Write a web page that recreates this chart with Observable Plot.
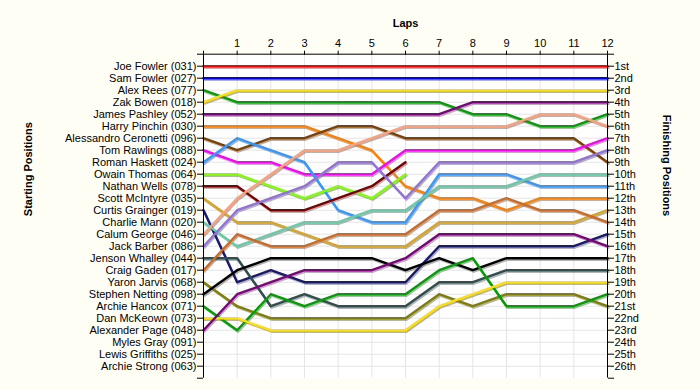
<!DOCTYPE html>
<html>
<head>
<meta charset="utf-8">
<script src="https://cdn.jsdelivr.net/npm/d3@7"></script>
<script src="https://cdn.jsdelivr.net/npm/@observablehq/plot@0.6"></script>
<style>
  html, body { margin: 0; padding: 0; background: #fffef4; }
  #chart svg { display: block; }
</style>
</head>
<body>
<div id="chart"></div>
<script>
// Laps (0 = start)
const laps = d3.range(0, 13);

// Starting-grid labels (left axis), in starting order
const startLabels = [
  "Joe Fowler (031)", "Sam Fowler (027)", "Alex Rees (077)", "Zak Bowen (018)",
  "James Pashley (052)", "Harry Pinchin (030)", "Alessandro Ceronetti (096)",
  "Tom Rawlings (088)", "Roman Haskett (024)", "Owain Thomas (064)",
  "Nathan Wells (078)", "Scott McIntyre (035)", "Curtis Grainger (019)",
  "Charlie Mann (020)", "Calum George (046)", "Jack Barber (086)",
  "Jenson Whalley (044)", "Craig Gaden (017)", "Yaron Jarvis (068)",
  "Stephen Netting (098)", "Archie Hancox (071)", "Dan McKeown (073)",
  "Alexander Page (048)", "Myles Gray (091)", "Lewis Griffiths (025)",
  "Archie Strong (063)"
];

// Finishing-position labels (right axis)
const finishLabels = [
  "1st","2nd","3rd","4th","5th","6th","7th","8th","9th","10th","11th","12th","13th",
  "14th","15th","16th","17th","18th","19th","20th","21st","22nd","23rd","24th","25th","26th"
];

// Riders who have lap data (same order as the starting grid)
const riders = startLabels.slice(0, 23);

// Position of each rider at lap 0..n
const lapPositions = [
  [1,1,1,1,1,1,1,1,1,1,1,1,1],
  [2,2,2,2,2,2,2,2,2,2,2,2,2],
  [3,4,4,4,4,4,4,4,5,5,6,6,5],
  [4,3,3,3,3,3,3,3,3,3,3,3,3],
  [5,5,5,5,5,5,5,5,4,4,4,4,4],
  [6,6,6,6,7,8,11,12,12,13,12,12,12],
  [7,8,7,7,6,6,7,7,7,7,7,7,9],
  [8,9,9,10,10,10,8,8,8,8,8,8,7],
  [9,7,8,9,13,14,14,10,10,10,11,11,11],
  [10,10,11,12,11,12,10],
  [11,11,13,13,12,11,9],
  [12,14,14,15,16,16,16,14,14,14,14,14,13],
  [13,19,18,19,19,19,19,16,16,16,16,16,15],
  [14,16,15,14,14,13,13,11,11,11,10,10,10],
  [15,12,10,8,8,7,6,6,6,6,5,5,6],
  [16,13,12,11,9,9,12,9,9,9,9,9,8],
  [17,17,21,20,21,21,21,19,19,18,18,18,18],
  [18,15,16,16,15,15,15,13,13,12,13,13,14],
  [19,21,22,22,22,22,22,20,21,20,20,20,21],
  [20,18,17,17,17,17,18,17,18,17,17,17,17],
  [21,23,20,21,20,20,20,18,17,21,21,21,20],
  [22,22,23,23,23,23,23,21,20,19,19,19,19],
  [23,20,19,18,18,18,17,15,15,15,15,15,16]
];

// Line colours, one per rider
const riderColors = [
  "#ff0000","#0000ff","#00a000","#ffe000","#800080","#ff8000","#804000","#ff00ff",
  "#3399ff","#80ff00","#800000","#daa520","#191970","#66cdaa","#ffa07a","#9370db",
  "#2f4f4f","#d2691e","#808000","#000000","#00a000","#ffe000","#800080"
];

const rows = [];
riders.forEach((r, i) => {
  lapPositions[i].forEach((p, j) => rows.push({rider: r, lap: laps[j], pos: p}));
});

const posTicks = d3.range(0, 28);

const chart = Plot.plot({
  width: 700,
  height: 390,
  marginLeft: 203,
  marginRight: 93,
  marginTop: 53.7,
  marginBottom: 12.3,
  style: {background: "#fffef4", fontFamily: "'Liberation Sans', Arial, sans-serif", fontSize: "11px", color: "#000"},
  x: {domain: [0, 12]},
  y: {domain: [0, 27], reverse: true},
  color: {domain: riders, range: riderColors},
  marks: [
    Plot.frame({fill: "white", stroke: null}),
    Plot.gridX({ticks: d3.range(1, 12), stroke: "#e4e4e4", strokeOpacity: 1}),
    Plot.gridY({ticks: d3.range(1, 27), stroke: "#e4e4e4", strokeOpacity: 1}),
    Plot.line(rows, {x: "lap", y: "pos", z: "rider", stroke: "#777", strokeOpacity: 0.55, strokeWidth: 2.4, dx: 1, dy: 1.5}),
    Plot.line(rows, {x: "lap", y: "pos", z: "rider", stroke: "rider", strokeWidth: 2.4}),
    Plot.ruleY([0], {stroke: "#000"}),
    Plot.ruleX([0], {stroke: "#000"}),
    Plot.ruleX([12], {stroke: "#000"}),
    Plot.axisX({anchor: "top", ticks: laps, tickFormat: d => d === 0 ? "" : d, tickSize: 4, tickPadding: 3, label: null, fontSize: 11, stroke: "#000"}),
    Plot.axisY({anchor: "left", ticks: posTicks, tickFormat: d => startLabels[d - 1] ?? "", tickSize: 6, tickPadding: 1, label: null, fontSize: 11}),
    Plot.axisY({anchor: "right", ticks: posTicks, tickFormat: d => finishLabels[d - 1] ?? "", tickSize: 6, tickPadding: 1, label: null, fontSize: 11}),
    Plot.text(["Laps"], {frameAnchor: "top", dy: -35, fontWeight: "bold", fontSize: 11}),
    Plot.text(["Starting Positions"], {frameAnchor: "left", dx: -175, rotate: -90, fontWeight: "bold", fontSize: 11}),
    Plot.text(["Finishing Positions"], {frameAnchor: "right", dx: 59, rotate: 90, fontWeight: "bold", fontSize: 11})
  ]
});

document.getElementById("chart").appendChild(chart);
</script>
</body>
</html>
